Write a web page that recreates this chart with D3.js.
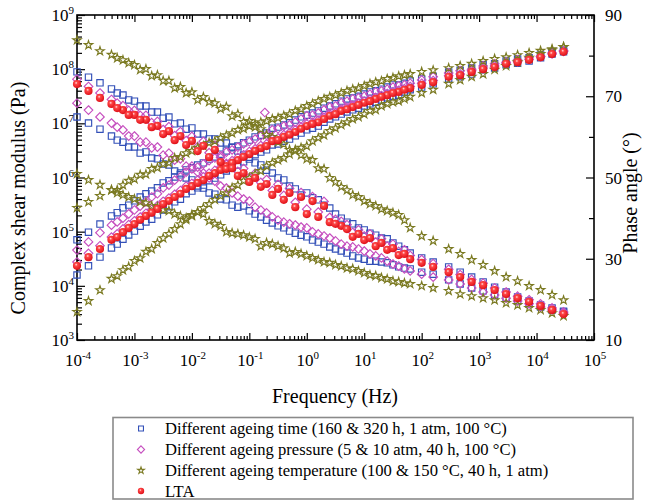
<!DOCTYPE html>
<html><head><meta charset="utf-8">
<script src="https://cdn.jsdelivr.net/npm/d3@7"></script>
<style>
body{margin:0;background:#fff}
svg{display:block}
</style>
</head><body>
<svg id="chart" width="648" height="500" font-family="'Liberation Serif', 'Times New Roman', Times, serif"></svg>
<script>
// ---------- DATA (frequencies as log10 Hz, modulus as log10 Pa, phase in degrees) ----------
const freqA = [-4.0,-3.8,-3.6,-3.4,-3.2,-3.0,-2.8,-2.6,-2.4,-2.2,-2.0,-1.8,-1.6,-1.4,-1.2,-1.0,-0.8,-0.6,-0.4,-0.2,0.0,0.2,0.4,0.6,0.8,1.0,1.2,1.4,1.6,1.8,2.0,2.2,2.47,2.67,2.87,3.07,3.27,3.47,3.67,3.87,4.07,4.27,4.47];
const freqB = [-3.3,-3.1,-2.9,-2.7,-2.5,-2.3,-2.1,-1.9,-1.7,-1.5,-1.3,-1.1,-0.9,-0.7,-0.5,-0.3,-0.1,0.1,0.3,0.5,0.7,0.9,1.1,1.3,1.5,1.7];

// Different ageing time 160 h
const time160ModA = [4.20,4.37,4.53,4.70,4.86,5.01,5.18,5.31,5.46,5.60,5.75,5.86,5.99,6.12,6.23,6.34,6.47,6.60,6.67,6.77,6.88,6.95,7.08,7.17,7.25,7.32,7.39,7.47,7.52,7.62,7.67,7.73,7.82,7.86,7.91,7.99,8.02,8.08,8.11,8.15,8.21,8.28,8.32];
const time160ModB = [4.77,4.94,5.10,5.23,5.40,5.55,5.70,5.81,5.94,6.05,6.18,6.29,6.42,6.51,6.62,6.71,6.82,6.91,7.02,7.12,7.21,7.28,7.36,7.43,7.50,7.58];
const time160PhaseA = [76.0,74.7,73.3,71.8,70.3,68.8,67.6,66.1,64.9,63.4,62.2,60.7,59.5,58.5,56.5,55.0,53.1,51.1,49.4,47.2,46.2,44.5,42.5,40.0,38.6,37.1,35.8,34.9,33.1,31.4,30.2,29.2,28.0,26.7,25.5,24.3,23.0,21.8,20.6,19.6,18.6,17.9,17.1];
const time160PhaseB = [70.8,69.1,67.6,66.1,64.6,63.2,61.9,60.7,59.5,58.5,57.5,55.5,53.6,51.8,49.9,47.9,45.7,45.0,43.2,41.0,39.0,37.6,36.3,35.1,33.9,32.2];
// Different ageing time 320 h
const time320ModA = [4.85,4.99,5.14,5.29,5.44,5.57,5.70,5.81,5.94,6.05,6.18,6.27,6.38,6.49,6.58,6.69,6.78,6.91,6.97,7.06,7.15,7.23,7.32,7.41,7.47,7.54,7.60,7.67,7.71,7.78,7.82,7.87,7.95,7.98,8.02,8.08,8.10,8.15,8.19,8.21,8.26,8.32,8.35];
const time320ModB = [5.35,5.49,5.64,5.75,5.90,6.01,6.14,6.23,6.34,6.43,6.55,6.64,6.75,6.82,6.93,7.01,7.12,7.19,7.28,7.36,7.45,7.50,7.58,7.63,7.71,7.74];
const time320PhaseA = [64.9,63.4,61.9,60.2,58.7,57.5,56.3,54.6,53.1,51.1,49.4,47.4,45.9,44.5,42.7,41.8,40.3,38.8,37.6,36.3,35.4,34.1,32.9,31.9,30.7,29.9,29.4,29.0,28.0,27.5,26.7,26.2,24.8,23.8,22.8,22.1,21.1,20.3,19.6,18.9,18.1,17.4,16.9];
const time320PhaseB = [59.2,57.5,56.0,54.8,53.3,51.6,49.9,47.9,46.2,44.7,43.2,43.0,41.0,39.5,38.1,36.8,35.8,34.6,33.6,32.4,31.4,30.2,29.4,29.2,28.5,27.7];
// Different ageing pressure 5 atm
const press5ModA = [4.44,4.60,4.74,4.90,5.05,5.20,5.34,5.48,5.62,5.76,5.89,6.01,6.13,6.26,6.37,6.48,6.59,6.71,6.79,6.88,6.99,7.06,7.17,7.26,7.33,7.41,7.48,7.55,7.61,7.68,7.74,7.79,7.88,7.91,7.97,8.02,8.06,8.11,8.14,8.18,8.23,8.28,8.33];
const press5ModB = [4.96,5.13,5.27,5.41,5.56,5.69,5.84,5.95,6.08,6.19,6.31,6.42,6.53,6.62,6.73,6.83,6.93,7.02,7.11,7.20,7.29,7.37,7.44,7.51,7.58,7.64];
const press5PhaseA = [74.2,72.4,70.8,69.2,67.7,66.5,65.3,63.8,62.5,61.3,60.1,58.9,57.9,53.2,51.5,50.0,48.8,46.8,45.6,43.9,42.2,41.5,40.2,39.2,36.5,35.6,34.1,33.1,31.8,30.8,29.8,28.8,27.4,26.1,24.9,24.0,22.8,21.8,20.8,19.9,18.9,17.9,16.9];
const press5PhaseB = [68.3,66.5,65.3,63.5,61.8,60.3,59.1,57.6,56.1,54.9,53.4,52.2,51.0,49.5,48.3,47.3,46.3,45.3,44.1,39.7,38.4,37.1,36.1,34.9,33.6,32.2];
// Different ageing pressure 10 atm
const press10ModA = [4.66,4.81,4.98,5.12,5.25,5.40,5.55,5.70,5.86,6.01,6.16,6.25,6.36,6.47,6.56,6.66,6.77,6.88,6.95,7.02,7.14,7.19,7.30,7.38,7.45,7.50,7.58,7.63,7.69,7.74,7.80,7.86,7.93,7.97,8.00,8.06,8.10,8.13,8.17,8.21,8.24,8.30,8.34];
const press10ModB = [5.18,5.33,5.47,5.64,5.81,5.95,6.10,6.19,6.31,6.40,6.51,6.62,6.71,6.78,6.90,6.97,7.08,7.15,7.25,7.32,7.41,7.47,7.54,7.60,7.67,7.71];
const press10PhaseA = [68.3,66.6,64.9,63.4,61.7,60.2,58.7,57.5,56.0,54.6,52.8,51.1,49.1,47.4,45.4,44.2,42.0,40.3,39.0,38.3,37.6,36.1,35.1,33.6,32.9,31.9,30.7,29.4,28.2,27.0,26.2,25.5,24.8,23.8,22.8,21.8,21.1,20.3,19.6,18.9,18.1,17.4,16.6];
const press10PhaseB = [62.4,60.2,58.7,57.3,55.5,54.3,52.8,51.3,49.9,47.9,46.2,44.7,42.7,41.3,39.5,38.6,37.8,36.6,35.6,34.4,33.1,32.4,31.2,30.2,28.7,27.5];
const press10PhaseStrayFreq = [-0.73];
const press10PhaseStray = [66.0];
// Different ageing temperature 100 °C
const temp100ModA = [3.52,3.72,3.92,4.13,4.29,4.46,4.63,4.79,4.96,5.14,5.29,5.44,5.59,5.71,5.86,5.99,6.12,6.27,6.36,6.49,6.58,6.73,6.86,6.97,7.08,7.17,7.25,7.36,7.41,7.49,7.56,7.62,7.73,7.80,7.86,7.91,7.99,8.06,8.13,8.21,8.28,8.35,8.41];
const temp100ModB = [4.18,4.35,4.51,4.68,4.88,5.05,5.22,5.36,5.51,5.66,5.81,5.94,6.06,6.21,6.32,6.43,6.55,6.67,6.78,6.91,7.02,7.12,7.23,7.32,7.39,7.45];
const temp100PhaseA = [83.8,82.6,81.1,80.2,78.9,77.7,76.7,75.2,73.8,72.3,71.0,69.8,68.3,67.4,65.6,63.9,61.9,60.0,58.2,56.8,54.6,52.3,49.9,47.7,45.7,44.2,43.0,41.8,40.8,37.6,35.6,34.4,32.4,31.2,29.7,28.5,27.0,25.5,24.5,23.3,22.3,21.1,19.8];
const temp100PhaseB = [79.4,78.2,76.5,75.0,73.8,72.0,70.8,69.1,68.6,66.9,65.1,63.7,62.4,60.5,58.7,56.8,55.5,54.3,52.1,48.9,46.9,45.2,43.5,42.2,41.3,39.5];
// Different ageing temperature 150 °C
const temp150ModA = [5.44,5.55,5.66,5.77,5.86,5.97,6.06,6.18,6.27,6.38,6.49,6.58,6.67,6.78,6.88,6.95,7.02,7.08,7.14,7.23,7.32,7.41,7.49,7.56,7.63,7.69,7.76,7.82,7.87,7.91,7.95,7.98,8.02,8.06,8.10,8.15,8.19,8.22,8.26,8.30,8.34,8.37,8.41];
const temp150ModB = [5.77,5.94,6.05,6.16,6.25,6.36,6.45,6.55,6.64,6.73,6.82,6.90,6.99,7.04,7.10,7.17,7.26,7.36,7.45,7.52,7.60,7.65,7.73,7.78,7.84,7.89];
const temp150PhaseA = [50.9,49.4,48.2,46.9,45.7,44.7,43.7,42.7,41.8,40.5,40.8,41.0,38.6,36.6,36.1,35.3,33.1,33.6,32.6,31.7,30.7,29.7,29.0,28.2,27.5,26.5,25.8,25.0,24.3,23.8,23.3,22.8,22.1,21.3,20.8,20.3,19.8,19.1,18.6,17.9,17.4,16.6,15.9];
const temp150PhaseB = [46.2,45.2,44.0,43.0,42.0,41.0,40.0,41.5,39.3,38.1,36.3,35.8,34.9,33.9,33.1,31.4,31.2,30.2,29.2,28.5,27.7,27.0,26.0,25.3,24.5,24.0];
// LTA
const ltaModA = [4.37,4.53,4.68,4.85,4.99,5.14,5.29,5.42,5.57,5.70,5.84,5.95,6.08,6.21,6.32,6.43,6.54,6.67,6.75,6.84,6.95,7.02,7.14,7.23,7.30,7.38,7.45,7.52,7.58,7.65,7.71,7.76,7.86,7.89,7.95,8.00,8.04,8.10,8.13,8.17,8.22,8.28,8.32];
const ltaModB = [4.90,5.07,5.22,5.35,5.51,5.64,5.79,5.90,6.03,6.14,6.27,6.38,6.49,6.58,6.69,6.79,6.90,6.99,7.08,7.17,7.26,7.34,7.41,7.49,7.56,7.62];
const ltaPhaseA = [73.0,71.3,69.6,68.1,66.6,65.4,64.2,62.7,61.4,60.2,59.0,57.8,56.8,52.1,50.4,48.9,47.7,45.7,44.5,42.7,41.0,40.3,39.0,38.1,35.4,34.6,33.1,32.2,30.9,29.9,29.0,28.0,26.7,25.5,24.3,23.5,22.3,21.3,20.3,19.4,18.4,17.4,16.4];
const ltaPhaseB = [67.1,65.4,64.2,62.4,60.7,59.2,58.0,56.5,55.0,53.8,52.3,51.1,49.9,48.4,47.2,46.2,45.2,44.2,43.0,38.6,37.3,36.1,35.1,33.9,32.6,31.2];

const xTickExps = [-4,-3,-2,-1,0,1,2,3,4,5];
const yLeftTickExps = [3,4,5,6,7,8,9];
const yRightTicks = [10,30,50,70,90];
const yRightMinor = [20,40,60,80];
const legendLabels = [
  "Different ageing time (160 & 320 h, 1 atm, 100 °C)",
  "Different ageing pressure (5 & 10 atm, 40 h, 100 °C)",
  "Different ageing temperature (100 & 150 °C, 40 h, 1 atm)",
  "LTA"
];

// ---------- CHART ----------
const FONT = "'Liberation Serif', 'Times New Roman', Times, serif";
const svg = d3.select('#chart');
const P = {l:77, r:594, t:15, b:340};
const x = d3.scaleLog().domain([1e-4,1e5]).range([P.l,P.r]);
const yL = d3.scaleLog().domain([1e3,1e9]).range([P.b,P.t]);
const yR = d3.scaleLinear().domain([10,90]).range([P.b,P.t]);

const defs = svg.append('defs');
const grad = defs.append('radialGradient').attr('id','ball').attr('cx','40%').attr('cy','36%').attr('r','62%');
grad.append('stop').attr('offset','0%').attr('stop-color','#ffe6e6');
grad.append('stop').attr('offset','28%').attr('stop-color','#ff4646');
grad.append('stop').attr('offset','100%').attr('stop-color','#e0121a');

const xMinor = [], yMinor = [];
xTickExps.slice(0,-1).forEach(e => { for (let k=2;k<=9;k++) xMinor.push(k*Math.pow(10,e)); });
yLeftTickExps.slice(0,-1).forEach(e => { for (let k=2;k<=9;k++) yMinor.push(k*Math.pow(10,e)); });
const xMajor = xTickExps.map(e => Math.pow(10,e));
const yMajor = yLeftTickExps.map(e => Math.pow(10,e));

function styleAxis(g){ g.select('.domain').remove(); g.selectAll('line').attr('stroke','#000').attr('stroke-width',1.2); g.selectAll('text').remove(); }

svg.append('g').attr('transform',`translate(0,${P.b})`).call(d3.axisBottom(x).tickValues(xMajor).tickSize(-7).tickFormat('')).call(styleAxis);
svg.append('g').attr('transform',`translate(0,${P.b})`).call(d3.axisBottom(x).tickValues(xMinor).tickSize(-4).tickFormat('')).call(styleAxis);
svg.append('g').attr('transform',`translate(0,${P.t})`).call(d3.axisTop(x).tickValues(xMajor).tickSize(-7).tickFormat('')).call(styleAxis);
svg.append('g').attr('transform',`translate(0,${P.t})`).call(d3.axisTop(x).tickValues(xMinor).tickSize(-4).tickFormat('')).call(styleAxis);
svg.append('g').attr('transform',`translate(${P.l},0)`).call(d3.axisLeft(yL).tickValues(yMajor).tickSize(-8).tickFormat('')).call(styleAxis);
svg.append('g').attr('transform',`translate(${P.l},0)`).call(d3.axisLeft(yL).tickValues(yMinor).tickSize(-5).tickFormat('')).call(styleAxis);
svg.append('g').attr('transform',`translate(${P.r},0)`).call(d3.axisRight(yR).tickValues(yRightTicks).tickSize(-8).tickFormat('')).call(styleAxis);
svg.append('g').attr('transform',`translate(${P.r},0)`).call(d3.axisRight(yR).tickValues(yRightMinor).tickSize(-5).tickFormat('')).call(styleAxis);

svg.append('rect').attr('x',P.l).attr('y',P.t).attr('width',P.r-P.l).attr('height',P.b-P.t)
  .attr('fill','none').attr('stroke','#000').attr('stroke-width',1.6);

function T(parent){ return parent.append('text').attr('font-family',FONT).attr('fill','#000'); }
function powLabel(sel, exp){
  sel.append('tspan').text('10');
  sel.append('tspan').attr('dy',-7).attr('font-size',11).text(String(exp));
}
xTickExps.forEach(e => {
  T(svg).attr('x',x(Math.pow(10,e))+1).attr('y',P.b+26).attr('text-anchor','middle')
    .attr('font-size',17).call(s => powLabel(s,e));
});
yLeftTickExps.forEach(e => {
  T(svg).attr('x',P.l-3).attr('y',yL(Math.pow(10,e))+6).attr('text-anchor','end')
    .attr('font-size',17).call(s => powLabel(s,e));
});
yRightTicks.forEach(v => {
  T(svg).attr('x',P.r+11).attr('y',yR(v)+6).attr('font-size',17).text(v);
});

T(svg).attr('x',335).attr('y',403).attr('text-anchor','middle').attr('font-size',20).text('Frequency (Hz)');
T(svg).attr('transform','translate(25,198) rotate(-90)').attr('text-anchor','middle').attr('font-size',20).text('Complex shear modulus (Pa)');
T(svg).attr('transform','translate(637,193) rotate(-90)').attr('text-anchor','middle').attr('font-size',20).text('Phase angle (°)');

const sq = d3.symbol().type(d3.symbolSquare).size(40)();
const star = d3.symbol().type(d3.symbolStar).size(22)();
const diamond = (r) => `M0,${-r}L${r},0L0,${r}L${-r},0Z`;
const styles = {
  square:  s => s.attr('d',sq).attr('fill','none').attr('stroke','#3350b8').attr('stroke-width',1.15),
  diamond: s => s.attr('d',diamond(4.3)).attr('fill','none').attr('stroke','#c64fbf').attr('stroke-width',1.15),
  star:    s => s.attr('d',star).attr('fill','none').attr('stroke','#7b7a22').attr('stroke-width',1.15),
};

function pts(fr, vals, kind){
  return fr.map((f,i) => ({f: Math.pow(10,f), v: kind==='mod' ? Math.pow(10, vals[i]) : vals[i], kind}));
}
const groups = [
  {sym:'square', sets:[pts(freqA,time160ModA,'mod'),pts(freqB,time160ModB,'mod'),pts(freqA,time160PhaseA,'ph'),pts(freqB,time160PhaseB,'ph'),
                       pts(freqA,time320ModA,'mod'),pts(freqB,time320ModB,'mod'),pts(freqA,time320PhaseA,'ph'),pts(freqB,time320PhaseB,'ph')]},
  {sym:'diamond', sets:[pts(freqA,press5ModA,'mod'),pts(freqB,press5ModB,'mod'),pts(freqA,press5PhaseA,'ph'),pts(freqB,press5PhaseB,'ph'),
                        pts(freqA,press10ModA,'mod'),pts(freqB,press10ModB,'mod'),pts(freqA,press10PhaseA,'ph'),pts(freqB,press10PhaseB,'ph'),
                        pts(press10PhaseStrayFreq,press10PhaseStray,'ph')]},
  {sym:'star', sets:[pts(freqA,temp100ModA,'mod'),pts(freqB,temp100ModB,'mod'),pts(freqA,temp100PhaseA,'ph'),pts(freqB,temp100PhaseB,'ph'),
                     pts(freqA,temp150ModA,'mod'),pts(freqB,temp150ModB,'mod'),pts(freqA,temp150PhaseA,'ph'),pts(freqB,temp150PhaseB,'ph')]},
  {sym:'ball', sets:[pts(freqA,ltaModA,'mod'),pts(freqB,ltaModB,'mod'),pts(freqA,ltaPhaseA,'ph'),pts(freqB,ltaPhaseB,'ph')]}
];
const py = d => d.kind==='mod' ? yL(d.v) : yR(d.v);
groups.forEach(g => {
  const data = g.sets.flat();
  const layer = svg.append('g');
  if (g.sym === 'ball') {
    layer.selectAll('circle').data(data).join('circle')
      .attr('cx',d=>x(d.f)).attr('cy',py).attr('r',4.1).attr('fill','url(#ball)');
  } else {
    layer.selectAll('path').data(data).join('path')
      .attr('transform',d=>`translate(${x(d.f)},${py(d)})`).call(styles[g.sym]);
  }
});

const lg = svg.append('g');
lg.append('rect').attr('x',113).attr('y',417.5).attr('width',520).attr('height',81.5)
  .attr('fill','#fff').attr('stroke','#8a8a8a').attr('stroke-width',1.6);
const rowY = [428.5, 449.5, 470.5, 491];
const legSyms = ['square','diamond','star','ball'];
legSyms.forEach((s,i) => {
  const cx = 141, cy = rowY[i];
  if (s==='square') lg.append('path').attr('transform',`translate(${cx},${cy})`).attr('d',d3.symbol().type(d3.symbolSquare).size(24)()).attr('fill','none').attr('stroke','#3350b8').attr('stroke-width',1.1);
  if (s==='diamond') lg.append('path').attr('transform',`translate(${cx},${cy})`).attr('d',diamond(3.6)).attr('fill','none').attr('stroke','#c64fbf').attr('stroke-width',1.1);
  if (s==='star') lg.append('path').attr('transform',`translate(${cx},${cy})`).attr('d',d3.symbol().type(d3.symbolStar).size(14)()).attr('fill','none').attr('stroke','#7b7a22').attr('stroke-width',1.1);
  if (s==='ball') lg.append('circle').attr('cx',cx).attr('cy',cy).attr('r',3.2).attr('fill','url(#ball)');
  T(lg).attr('x',165).attr('y',cy+5.5).attr('font-size',16.6).text(legendLabels[i]);
});
</script>
</body></html>
